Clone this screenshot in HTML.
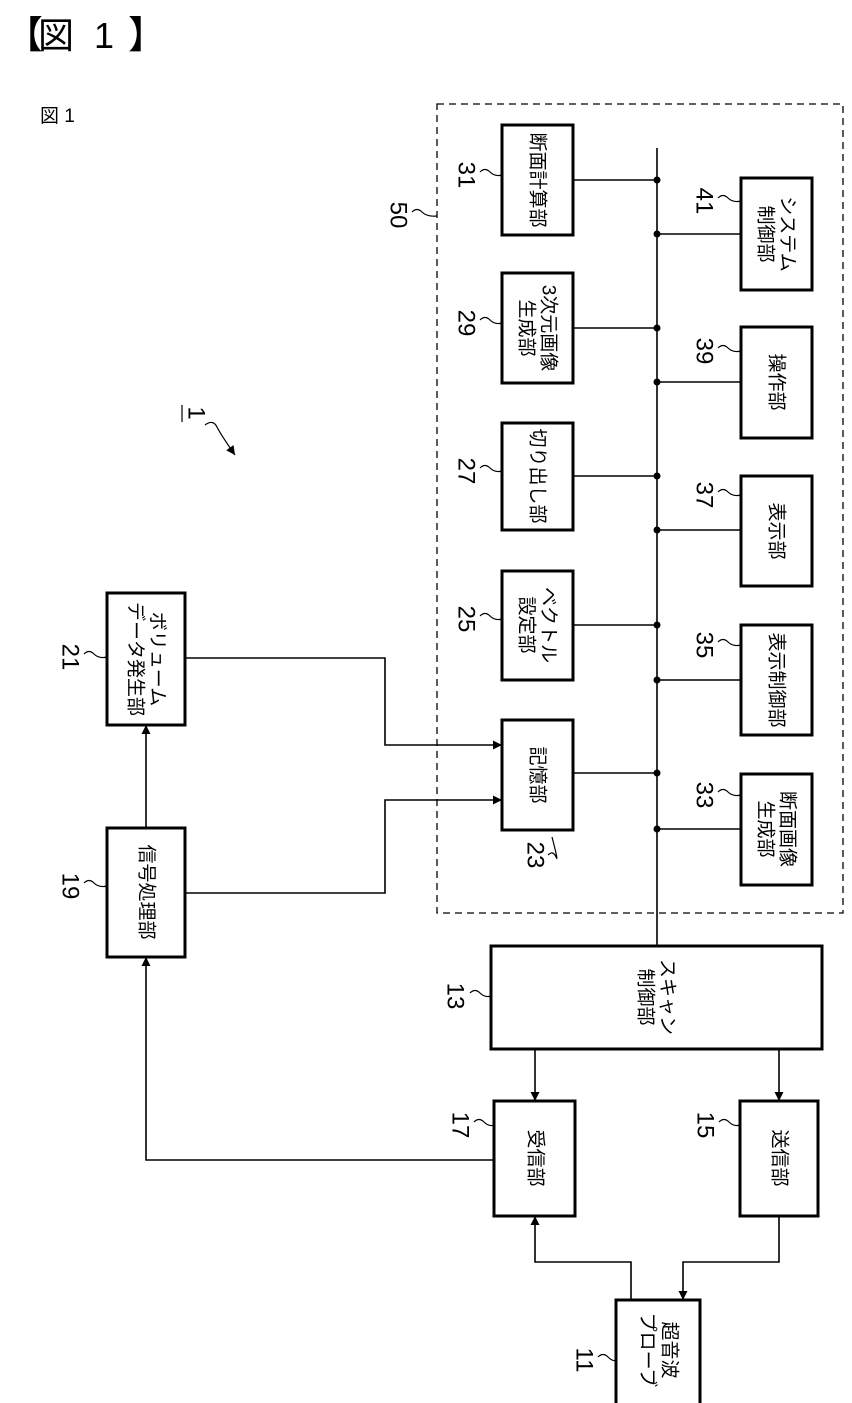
<!DOCTYPE html>
<html><head><meta charset="utf-8"><style>
body{margin:0;background:#fff}
svg{display:block}
text{font-family:"Liberation Sans","Noto Sans CJK JP",sans-serif;fill:#000}
.b{fill:#fff;stroke:#000;stroke-width:3}
.l{fill:none;stroke:#000;stroke-width:1.6}
.q{fill:none;stroke:#000;stroke-width:1.2}
.t{font-size:19px}
.n{font-size:24px}
</style></head><body>
<svg width="852" height="1403" viewBox="0 0 852 1403" xmlns="http://www.w3.org/2000/svg">
<defs><marker id="a" viewBox="0 0 10 10" refX="10" refY="5" markerWidth="9" markerHeight="9" orient="auto" markerUnits="userSpaceOnUse"><path d="M0,0L10,5L0,10z"/></marker></defs>
<text x="5" y="48" style="font-size:38px">【</text>
<text x="38" y="48" style="font-size:36px">図</text>
<text x="94" y="48" style="font-size:36px">1</text>
<text x="128" y="48" style="font-size:38px">】</text>
<text x="40" y="122" style="font-size:19px">図 1</text>
<rect x="437" y="104" width="406" height="809" fill="none" stroke="#000" stroke-width="1.3" stroke-dasharray="7,5"/>
<!-- bus -->
<line class="l" x1="657" y1="148" x2="657" y2="946"/>
<g class="l">
<path d="M573 180H657M573 328H657M573 476H657M573 625H657M573 773H657M657 234H741M657 382H741M657 530H741M657 680H741M657 829H741"/>
</g>
<g>
<circle cx="657" cy="180" r="3.5"/><circle cx="657" cy="328" r="3.5"/><circle cx="657" cy="476" r="3.5"/><circle cx="657" cy="625" r="3.5"/><circle cx="657" cy="773" r="3.5"/>
<circle cx="657" cy="234" r="3.5"/><circle cx="657" cy="382" r="3.5"/><circle cx="657" cy="530" r="3.5"/><circle cx="657" cy="680" r="3.5"/><circle cx="657" cy="829" r="3.5"/>
</g>
<!-- boxes -->
<rect class="b" x="502" y="125" width="71" height="110"/>
<rect class="b" x="502" y="273" width="71" height="110"/>
<rect class="b" x="502" y="423" width="71" height="107"/>
<rect class="b" x="502" y="571" width="71" height="109"/>
<rect class="b" x="502" y="720" width="71" height="110"/>
<rect class="b" x="741" y="178" width="71" height="112"/>
<rect class="b" x="741" y="327" width="71" height="111"/>
<rect class="b" x="741" y="476" width="71" height="110"/>
<rect class="b" x="741" y="625" width="71" height="110"/>
<rect class="b" x="741" y="774" width="71" height="111"/>
<rect class="b" x="107" y="593" width="78" height="132"/>
<rect class="b" x="107" y="828" width="78" height="129"/>
<rect class="b" x="491" y="946" width="331" height="103"/>
<rect class="b" x="494" y="1101" width="81" height="115"/>
<rect class="b" x="740" y="1101" width="78" height="115"/>
<rect class="b" x="616" y="1300" width="84" height="110"/>
<!-- box texts (rotated) -->
<g class="t" text-anchor="middle" dominant-baseline="central">
<text transform="translate(537,180) rotate(90)">断面計算部</text>
<text transform="translate(548,328) rotate(90)">3次元画像</text>
<text transform="translate(526,328) rotate(90)">生成部</text>
<text transform="translate(537,476) rotate(90)">切り出し部</text>
<text transform="translate(548,625) rotate(90)">ベクトル</text>
<text transform="translate(526,625) rotate(90)">設定部</text>
<text transform="translate(537,775) rotate(90)">記憶部</text>
<text transform="translate(787,234) rotate(90)">システム</text>
<text transform="translate(765,234) rotate(90)">制御部</text>
<text transform="translate(776,382) rotate(90)">操作部</text>
<text transform="translate(776,531) rotate(90)">表示部</text>
<text transform="translate(776,680) rotate(90)">表示制御部</text>
<text transform="translate(787,829) rotate(90)">断面画像</text>
<text transform="translate(765,829) rotate(90)">生成部</text>
<text transform="translate(157,659) rotate(90)">ボリューム</text>
<text transform="translate(135,659) rotate(90)">データ発生部</text>
<text transform="translate(146,892) rotate(90)">信号処理部</text>
<text transform="translate(667,997) rotate(90)">スキャン</text>
<text transform="translate(645,997) rotate(90)">制御部</text>
<text transform="translate(535,1158) rotate(90)">受信部</text>
<text transform="translate(779,1158) rotate(90)">送信部</text>
<text transform="translate(669,1350) rotate(90)">超音波</text>
<text transform="translate(647,1350) rotate(90)">プローブ</text>
</g>
<!-- connectors -->
<path class="l" d="M185 658H385V745H502" marker-end="url(#a)"/>
<path class="l" d="M185 893H385V800H502" marker-end="url(#a)"/>
<path class="l" d="M146 828V725" marker-end="url(#a)"/>
<path class="l" d="M494 1160H146V957" marker-end="url(#a)"/>
<path class="l" d="M535 1049V1101" marker-end="url(#a)"/>
<path class="l" d="M779 1049V1101" marker-end="url(#a)"/>
<path class="l" d="M631 1300V1262H535V1216" marker-end="url(#a)"/>
<path class="l" d="M779 1216V1262H683V1300" marker-end="url(#a)"/>
<!-- number labels -->
<g class="n" text-anchor="middle" dominant-baseline="central">
<text transform="translate(466,175) rotate(90)">31</text>
<text transform="translate(466,323) rotate(90)">29</text>
<text transform="translate(466,471) rotate(90)">27</text>
<text transform="translate(466,619) rotate(90)">25</text>
<text transform="translate(535,855) rotate(90)">23</text>
<text transform="translate(704,201) rotate(90)">41</text>
<text transform="translate(704,351) rotate(90)">39</text>
<text transform="translate(704,495) rotate(90)">37</text>
<text transform="translate(704,645) rotate(90)">35</text>
<text transform="translate(704,795) rotate(90)">33</text>
<text transform="translate(398,215) rotate(90)">50</text>
<text transform="translate(70,657) rotate(90)">21</text>
<text transform="translate(70,886) rotate(90)">19</text>
<text transform="translate(455,996) rotate(90)">13</text>
<text transform="translate(460,1125) rotate(90)">17</text>
<text transform="translate(705,1125) rotate(90)">15</text>
<text transform="translate(584,1360) rotate(90)">11</text>
<text transform="translate(196,413) rotate(90)">1</text>
</g>
<line class="q" x1="182" y1="405" x2="182" y2="422"/>
<g class="q">
<path d="M480 172q5-5 10 0t12 3"/>
<path d="M480 320q5-5 10 0t12 3"/>
<path d="M480 468q5-5 10 0t12 3"/>
<path d="M480 616q5-5 10 0t12 3"/>
<path d="M548 855q5-5 8 2t-4 -20" />
<path d="M718 198q5-5 10 0t13 3"/>
<path d="M718 348q5-5 10 0t13 3"/>
<path d="M718 492q5-5 10 0t13 3"/>
<path d="M718 642q5-5 10 0t13 3"/>
<path d="M718 792q5-5 10 0t13 3"/>
<path d="M412 212q5-5 10 0t15 4"/>
<path d="M84 654q5-5 10 0t13 3"/>
<path d="M84 883q5-5 10 0t13 3"/>
<path d="M470 993q5-5 10 0t11 3"/>
<path d="M474 1122q5-5 10 0t10 3"/>
<path d="M719 1122q5-5 10 0t11 3"/>
<path d="M598 1357q5-5 10 0t8 3"/>
<path d="M205 425q8-6 12 2t18 28" marker-end="url(#a)"/>
</g>
</svg>
</body></html>
